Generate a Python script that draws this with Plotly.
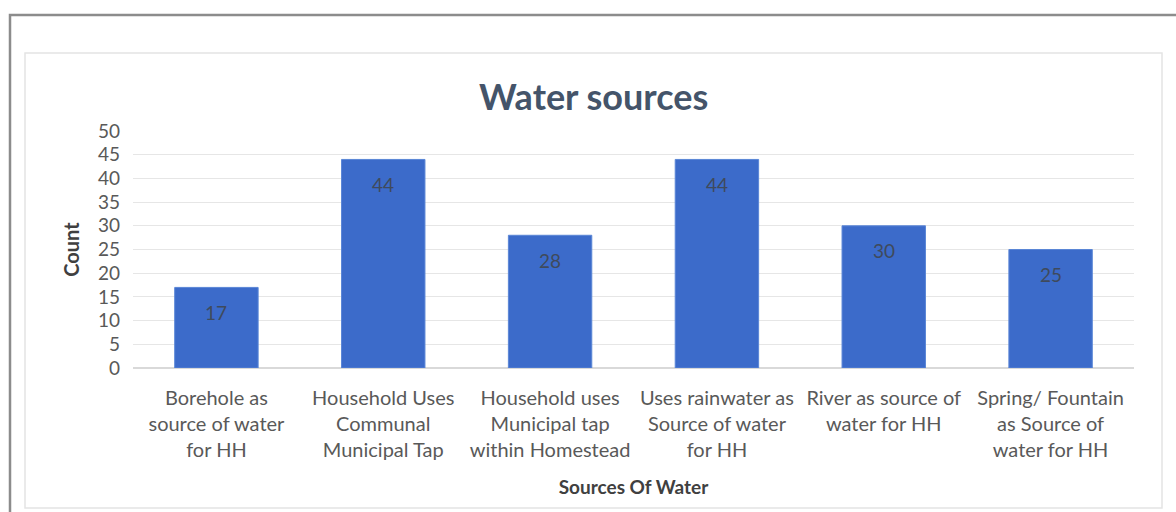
import plotly.graph_objects as go

# Survey counts per household water source
categories = [
    "Borehole as<br>source of water<br>for HH",
    "Household Uses<br>Communal<br>Municipal Tap",
    "Household uses<br>Municipal tap<br>within Homestead",
    "Uses rainwater as<br>Source of water<br>for HH",
    "River as source of<br>water for HH<br> ",
    "Spring/ Fountain<br>as Source of<br>water for HH",
]
counts = [17, 44, 28, 44, 30, 25]
y_ticks = [0, 5, 10, 15, 20, 25, 30, 35, 40, 45, 50]

W, H = 1176, 512
ML, MR, MT, MB = 133, 42, 131, 144
PW, PH = W - ML - MR, H - MT - MB


def px_x(p):
    return (p - ML) / PW


def px_y(p):
    return (H - MB - p) / PH


FONT = "Lato"
TICK_COL = "#595959"

fig = go.Figure()
fig.add_trace(go.Bar(
    x=categories,
    y=counts,
    width=0.5,
    marker=dict(color="#3c6bca", line=dict(color="#5a86d6", width=1)),
    hoverinfo="x+y",
))

annotations = []
for c, v in zip(categories, counts):
    annotations.append(dict(
        x=c, y=v, xref="x", yref="y", text=str(v), showarrow=False,
        yanchor="middle", yshift=-25,
        font=dict(family=FONT, size=19, color="#3f4a5c"),
    ))

annotations.append(dict(
    x=px_x(593), y=px_y(96), xref="paper", yref="paper",
    text="<b>Water sources</b>", showarrow=False,
    xanchor="center", yanchor="middle",
    font=dict(family=FONT, size=36, color="#44546a"),
))

shapes = [
    # inner chart area box
    dict(type="rect", xref="paper", yref="paper",
         x0=px_x(25), x1=px_x(1162), y0=px_y(508), y1=px_y(53),
         line=dict(color="#e4e4e4", width=1.5), layer="below"),
    # outer frame
    dict(type="rect", xref="paper", yref="paper",
         x0=px_x(10), x1=px_x(1200), y0=px_y(540), y1=px_y(15),
         line=dict(color="#8c8c8c", width=2.5), layer="below"),
]

fig.update_layout(
    width=W, height=H,
    margin=dict(l=ML, r=MR, t=MT, b=MB),
    paper_bgcolor="white", plot_bgcolor="white",
    showlegend=False,
    bargap=0.5,
    annotations=annotations,
    shapes=shapes,
    font=dict(family=FONT, color=TICK_COL),
)
fig.update_yaxes(
    range=[0, 50], tickvals=y_ticks, ticks="", showline=False,
    gridcolor="#e6e6e6", gridwidth=1, zeroline=True, zerolinecolor="#d9d9d9",
    tickfont=dict(family=FONT, size=19, color=TICK_COL),
    ticklabelstandoff=12,
    title=dict(text="<b>Count</b>", font=dict(family=FONT, size=20, color="#404040"), standoff=12),
    fixedrange=True,
)
fig.update_xaxes(
    showline=False, ticks="", showgrid=False,
    tickfont=dict(family=FONT, size=20, color=TICK_COL),
    ticklabelstandoff=16,
    title=dict(text="<b>Sources Of Water</b>", font=dict(family=FONT, size=19, color="#404040"), standoff=20),
    tickangle=0, fixedrange=True,
)

fig.write_html("out.html", include_plotlyjs=True, config={"displayModeBar": False})
